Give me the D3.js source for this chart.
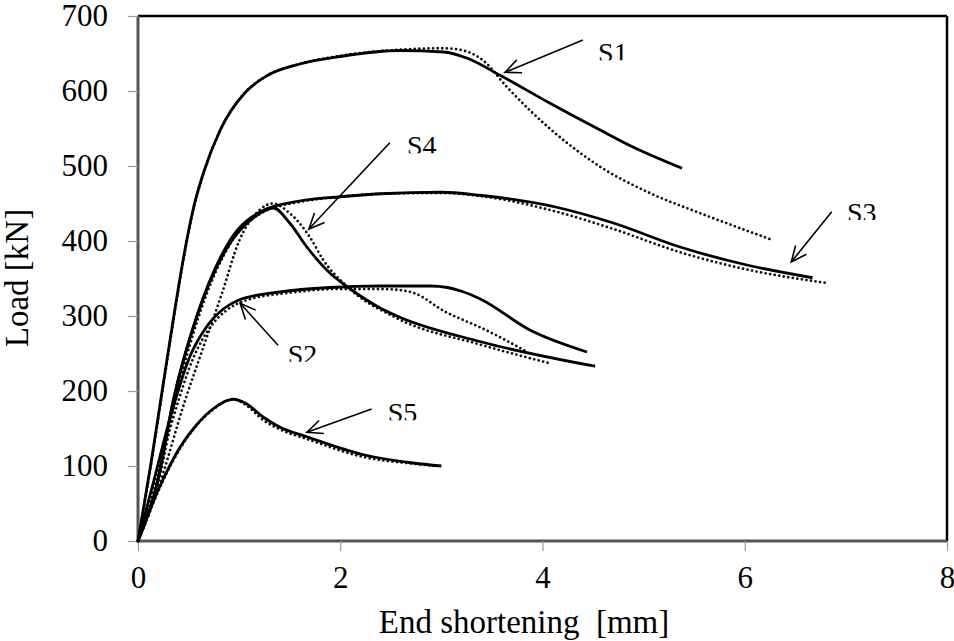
<!DOCTYPE html>
<html><head><meta charset="utf-8">
<script src="https://cdn.jsdelivr.net/npm/d3@7"></script>
<style>
body{margin:0;background:#fff;}
svg{display:block;}
text{font-family:"Liberation Serif","Times New Roman",serif;fill:#000;}
</style></head>
<body>
<svg id="chart" width="954" height="641"></svg>
<script>
// ---- data (End shortening [mm], Load [kN]) ----
const xTicks = [0, 2, 4, 6, 8];
const yTicks = [0, 100, 200, 300, 400, 500, 600, 700];
const xTitle = "End shortening\u00A0 [mm]";
const yTitle = "Load [kN]";

// solid = test, dotted = model
const s1Solid = [[0,0],[0.13,105],[0.25,210],[0.36,305],[0.46,385],[0.55,445],[0.65,492],[0.82,550],[1.06,598],[1.27,620],[1.6,636],[2.0,646],[2.59,654],[3.02,652],[3.25,644],[3.58,621],[4.07,584],[4.57,548],[4.9,525],[5.38,497]];
const s1Dot   = [[0,0],[0.13,103],[0.25,207],[0.36,302],[0.46,383],[0.55,443],[0.65,491],[0.82,549],[1.06,598],[1.27,620],[1.6,636],[2.0,647],[2.59,655],[3.0,657],[3.18,655],[3.41,641],[3.65,605],[3.9,571],[4.24,531],[4.57,499],[5.06,464],[5.56,437],[6.28,401]];
const s2Solid = [[0,0],[0.15,77],[0.32,165],[0.51,245],[0.68,286],[0.85,310],[1.01,322],[1.4,332],[1.9,338],[2.39,340],[2.89,340],[3.06,338],[3.2,333],[3.38,323],[3.88,281],[4.44,252]];
const s2Dot   = [[0,0],[0.17,77],[0.35,165],[0.55,245],[0.72,286],[0.88,308],[1.05,320],[1.5,331],[2.0,336],[2.4,336],[2.62,334],[2.72,331],[3.06,304],[3.21,295],[3.38,285],[3.85,252]];
const s3Solid = [[0,0],[0.19,77],[0.35,188],[0.58,299],[0.91,401],[1.24,441],[1.58,453],[2.0,459],[2.4,463],[3.0,465],[3.38,461],[4.14,445],[4.7,424],[5.36,392],[6.02,368],[6.67,351]];
const s3Dot   = [[0,0],[0.2,77],[0.37,188],[0.6,299],[0.93,400],[1.26,440],[1.6,452],[2.0,459],[2.4,463],[3.0,464],[3.38,460],[4.14,439],[4.7,416],[5.36,385],[6.02,362],[6.81,344]];
const s4Solid = [[0,0],[0.19,77],[0.35,188],[0.58,299],[0.9,395],[1.15,432],[1.34,444],[1.5,424],[1.67,392],[1.9,357],[2.07,339],[2.39,311],[2.56,300],[3.38,266],[4.52,233]];
const s4Dot   = [[0,0],[0.2,70],[0.46,185],[0.65,260],[0.83,330],[1.0,400],[1.2,441],[1.33,450],[1.5,437],[1.7,405],[1.83,375],[2.07,339],[2.56,297],[3.38,262],[4.07,237]];
const s5Solid = [[0,0],[0.1,35],[0.2,68],[0.32,102],[0.42,126],[0.58,155],[0.74,176],[0.94,189],[1.06,184],[1.24,165],[1.4,152],[1.67,139],[2.23,115],[2.72,104],[3.0,100]];
const s5Dot   = [[0,0],[0.1,34],[0.2,66],[0.32,100],[0.42,124],[0.58,154],[0.74,175],[0.94,189],[1.06,182],[1.24,161],[1.4,149],[1.67,136],[2.23,112],[2.72,103],[2.95,100]];

const seriesNames = ["S1","S2","S3","S4","S5"];
const solidSeries = [s1Solid, s2Solid, s3Solid, s4Solid, s5Solid];
const dotSeries   = [s1Dot, s2Dot, s3Dot, s4Dot, s5Dot];
// annotations in data units: label anchor, arrow start, arrow tip
const labelPos  = [[4.55,641],[1.48,239],[7.01,428],[2.66,517],[2.47,161]];
const arrowFrom = [[4.40,668],[1.385,261],[6.86,439],[2.49,531],[2.31,176]];
const arrowTip  = [[3.63,625],[1.01,317],[6.46,372],[1.69,416],[1.67,145]];

// ---- drawing ----
const svg = d3.select("#chart");
const x = d3.scaleLinear().domain([0, 8]).range([138, 947]);
const y = d3.scaleLinear().domain([0, 700]).range([541, 16]);
const serif = "Liberation Serif, Times New Roman, serif";

// frame: top/right black
svg.append("line").attr("x1", x(0)).attr("x2", x(8)).attr("y1", y(700)).attr("y2", y(700))
  .attr("stroke", "#000").attr("stroke-width", 2.5);
svg.append("line").attr("x1", x(8)).attr("x2", x(8)).attr("y1", y(700)).attr("y2", y(0))
  .attr("stroke", "#000").attr("stroke-width", 2.5);

// axes
const xAxis = d3.axisBottom(x).tickValues(xTicks).tickSize(10).tickPadding(15).tickFormat(d3.format("d"));
const yAxis = d3.axisLeft(y).tickValues(yTicks).tickSize(10).tickPadding(20).tickFormat(d3.format("d"));
const gx = svg.append("g").attr("transform", `translate(0,${y(0)})`).call(xAxis);
const gy = svg.append("g").attr("transform", `translate(${x(0)},0)`).call(yAxis);
[gx, gy].forEach(g => {
  g.select(".domain").attr("stroke", "#555").attr("stroke-width", 3);
  g.selectAll(".tick line").attr("stroke", "#999").attr("stroke-width", 1.2);
  g.selectAll(".tick text").attr("font-family", serif).attr("font-size", 31).attr("fill", "#000");
});
gx.select(".domain").attr("d", `M${x(0)},0H${x(8)}`);
gy.select(".domain").attr("d", `M0,${y(0)}V${y(700)}`);
gy.selectAll(".tick text").attr("dy", "0.3em");

// axis titles
svg.append("text").attr("x", 524).attr("y", 633).attr("text-anchor", "middle")
  .attr("font-family", serif).attr("font-size", 33).text(xTitle);
svg.append("text").attr("transform", `translate(28,278) rotate(-90)`).attr("text-anchor", "middle")
  .attr("font-family", serif).attr("font-size", 33).text(yTitle);

// curves
const line = d3.line().x(d => x(d[0])).y(d => y(d[1])).curve(d3.curveMonotoneX);
const plot = svg.append("g");
dotSeries.forEach(s => {
  plot.append("path").attr("d", line(s)).attr("fill", "none").attr("stroke", "#111")
    .attr("stroke-width", 2.8).attr("stroke-linecap", "round").attr("stroke-dasharray", "0 4.6");
});
solidSeries.forEach(s => {
  plot.append("path").attr("d", line(s)).attr("fill", "none").attr("stroke", "#000")
    .attr("stroke-width", 2.8).attr("stroke-linejoin", "round");
});

// annotations
const defs = svg.append("defs");
seriesNames.forEach((name, i) => {
  const [fx, fy] = [x(arrowFrom[i][0]), y(arrowFrom[i][1])];
  const [tx, ty] = [x(arrowTip[i][0]), y(arrowTip[i][1])];
  svg.append("line").attr("x1", fx).attr("y1", fy).attr("x2", tx).attr("y2", ty)
    .attr("stroke", "#000").attr("stroke-width", 1.6);
  const ang = Math.atan2(fy - ty, fx - tx);
  const L = 17, a = 0.42;
  const p1 = [tx + L * Math.cos(ang + a), ty + L * Math.sin(ang + a)];
  const p2 = [tx + L * Math.cos(ang - a), ty + L * Math.sin(ang - a)];
  svg.append("path").attr("d", `M${p1[0]},${p1[1]}L${tx},${ty}L${p2[0]},${p2[1]}`)
    .attr("fill", "none").attr("stroke", "#000").attr("stroke-width", 1.6);
  const lx = x(labelPos[i][0]), ly = y(labelPos[i][1]);
  defs.append("clipPath").attr("id", "clip" + i).append("rect")
    .attr("x", lx - 5).attr("y", ly - 40).attr("width", 60).attr("height", 40);
  svg.append("text").attr("x", lx).attr("y", ly + 2).attr("font-family", serif).attr("font-size", 28)
    .attr("clip-path", `url(#clip${i})`).text(name);
});
</script>
</body></html>
